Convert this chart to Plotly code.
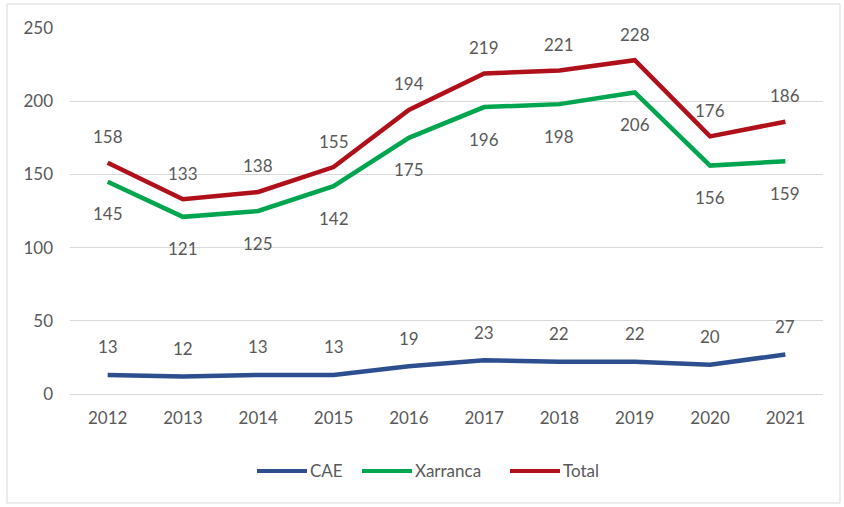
import plotly.graph_objects as go

years = ["2012", "2013", "2014", "2015", "2016", "2017", "2018", "2019", "2020", "2021"]
cae = [13, 12, 13, 13, 19, 23, 22, 22, 20, 27]
xarranca = [145, 121, 125, 142, 175, 196, 198, 206, 156, 159]
total = [158, 133, 138, 155, 194, 219, 221, 228, 176, 186]
y_ticks = [0, 50, 100, 150, 200, 250]

FONT = "Lato, 'Open Sans', sans-serif"
GREY = "#595959"
FS = 17

# plot area in pixels (for converting layout positions to paper coords)
L, R, T, B = 70, 21, 28, 113
W, H = 844, 507
PW, PH = W - L - R, H - T - B


def px(x):
    return (x - L) / PW


def py(y):
    return (H - B - y) / PH


series = [
    ("CAE", cae, "#2E4F8F", 28, 257),
    ("Xarranca", xarranca, "#00A550", -32, 362),
    ("Total", total, "#B0101A", 26, 510),
]

fig = go.Figure()
for name, vals, color, shift, lx in series:
    fig.add_trace(go.Scatter(x=years, y=vals, name=name, mode="lines",
                             line=dict(color=color, width=4.5), showlegend=False))
    for i, v in enumerate(vals):
        fig.add_annotation(x=i, y=v, xref="x", yref="y", text=str(v), showarrow=False,
                           yshift=shift, font=dict(family=FONT, size=FS, color=GREY))
    # legend entry
    fig.add_shape(type="line", xref="paper", yref="paper",
                  x0=px(lx), x1=px(lx + 50), y0=py(471), y1=py(471),
                  line=dict(color=color, width=4))
    fig.add_annotation(xref="paper", yref="paper", x=px(lx + 51), y=py(471),
                       xanchor="left", yanchor="middle", text=name, showarrow=False,
                       font=dict(family=FONT, size=FS, color=GREY))

fig.add_shape(type="rect", xref="paper", yref="paper",
              x0=px(7), x1=px(840), y0=py(503), y1=py(4),
              line=dict(color="#D9D9D9", width=1), fillcolor="rgba(0,0,0,0)", layer="below")

fig.update_layout(
    width=W, height=H,
    margin=dict(l=L, r=R, t=T, b=B),
    paper_bgcolor="white", plot_bgcolor="white",
    font=dict(family=FONT, size=FS, color=GREY),
    showlegend=False,
    xaxis=dict(type="category", range=[-0.5, 9.5], showgrid=False, zeroline=False,
               showline=False, ticks="", ticklabelstandoff=12,
               tickfont=dict(family=FONT, size=FS, color=GREY)),
    yaxis=dict(range=[0, 250], tickvals=y_ticks, showgrid=True, gridcolor="#D9D9D9",
               gridwidth=1, zeroline=True, zerolinecolor="#D9D9D9", zerolinewidth=1,
               showline=False, ticks="", ticklabelstandoff=16,
               tickfont=dict(family=FONT, size=FS, color=GREY)),
)

fig.write_html("out.html", config={"displayModeBar": False},
               post_script="document.body.style.margin='0';")
